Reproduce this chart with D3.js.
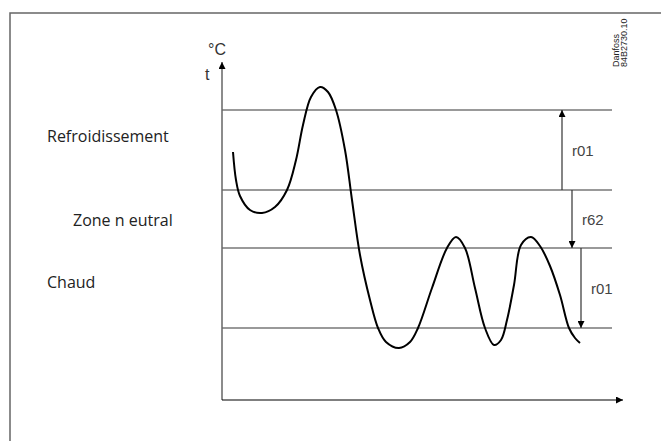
<!DOCTYPE html>
<html>
<head>
<meta charset="utf-8">
<script src="https://cdn.jsdelivr.net/npm/d3@7"></script>
<style>
  body { margin: 0; background: #fff; }
  svg { display: block; }
</style>
</head>
<body>
<div id="chart"></div>
<script>
// temperature curve (time, temperature)
const curveT = [11, 14, 18, 28, 40, 53, 65, 74, 81, 89, 98, 106, 114, 123, 130, 138, 148, 156, 164, 177, 188, 196, 210, 225, 234, 243, 253, 263, 272, 279, 285, 292, 299, 309, 318, 328, 338, 347, 353, 358];
const curveV = [248, 220, 204, 190, 187, 193, 210, 240, 275, 303, 313, 308, 290, 250, 200, 145, 100, 72, 58, 52, 58, 72, 112, 152, 163, 152, 112, 72, 55, 60, 80, 115, 155, 163, 154, 134, 105, 72, 62, 57];

// limit lines, top to bottom
const levels = [290, 210, 152, 72];

// zone labels on the left
const zoneNames = ["Refroidissement", "Zone n eutral", "Chaud"];
const zoneMid = [263, 179, 117];
const zoneIndent = [0, 26, 0];

// differentials shown as arrows on the right
const diffNames = ["r01", "r62", "r01"];
const diffT = [340, 350, 359];
const diffFrom = [210, 210, 152];
const diffTo = [290, 152, 72];

const width = 661, height = 441;
const margin = { top: 60, left: 222, right: 39, bottom: 41 };

const svg = d3.select("#chart").append("svg")
  .attr("width", width)
  .attr("height", height);

// outer frame (only top and left edges are visible in the crop)
svg.append("path")
  .attr("d", "M10," + height + "V13H" + width)
  .attr("fill", "none")
  .attr("stroke", "#666")
  .attr("stroke-width", 1.5);

const x = d3.scaleLinear().domain([0, 400]).range([margin.left, width - margin.right]);
const y = d3.scaleLinear().domain([0, 340]).range([height - margin.bottom, margin.top]);

const defs = svg.append("defs");
defs.append("marker")
  .attr("id", "tip")
  .attr("viewBox", "0 0 10 10")
  .attr("refX", 10).attr("refY", 5)
  .attr("markerWidth", 10).attr("markerHeight", 7)
  .attr("markerUnits", "userSpaceOnUse")
  .attr("orient", "auto")
  .append("path")
    .attr("d", "M0,0L10,5L0,10Z")
    .attr("fill", "#000");
defs.append("marker")
  .attr("id", "bigtip")
  .attr("viewBox", "0 0 10 10")
  .attr("refX", 10).attr("refY", 5)
  .attr("markerWidth", 12).attr("markerHeight", 7)
  .attr("markerUnits", "userSpaceOnUse")
  .attr("orient", "auto")
  .append("path")
    .attr("d", "M0,0L10,5L0,10Z")
    .attr("fill", "#000");

// limit lines
svg.selectAll(".level")
  .data(levels)
  .enter()
  .append("line")
    .attr("class", "level")
    .attr("x1", x(0))
    .attr("x2", x(390))
    .attr("y1", d => y(d))
    .attr("y2", d => y(d))
    .attr("stroke", "#777")
    .attr("stroke-width", 1.5);

// axes
svg.append("line")
  .attr("x1", x(0)).attr("x2", x(0))
  .attr("y1", y(0)).attr("y2", y(338))
  .attr("stroke", "#666")
  .attr("stroke-width", 1.5)
  .attr("marker-end", "url(#bigtip)");

svg.append("line")
  .attr("x1", x(0)).attr("x2", x(401))
  .attr("y1", y(0)).attr("y2", y(0))
  .attr("stroke", "#000")
  .attr("stroke-width", 1.2)
  .attr("marker-end", "url(#bigtip)");

svg.append("text")
  .attr("x", x(-14)).attr("y", y(345))
  .attr("font-family", "Liberation Sans, Arial, sans-serif")
  .attr("font-size", 16)
  .attr("fill", "#333")
  .text("°C");

svg.append("text")
  .attr("x", x(-17)).attr("y", y(320))
  .attr("font-family", "Liberation Sans, Arial, sans-serif")
  .attr("font-size", 16)
  .attr("fill", "#333")
  .text("t");

// temperature curve
const pts = curveT.map((t, i) => [t, curveV[i]]);
const line = d3.line()
  .x(d => x(d[0]))
  .y(d => y(d[1]))
  .curve(d3.curveCatmullRom.alpha(0.5));

svg.append("path")
  .datum(pts)
  .attr("d", line)
  .attr("fill", "none")
  .attr("stroke", "#000")
  .attr("stroke-width", 2);

// differential arrows
svg.selectAll(".diff")
  .data(diffNames)
  .enter()
  .append("line")
    .attr("class", "diff")
    .attr("x1", (d, i) => x(diffT[i]))
    .attr("x2", (d, i) => x(diffT[i]))
    .attr("y1", (d, i) => y(diffFrom[i]))
    .attr("y2", (d, i) => y(diffTo[i]))
    .attr("stroke", "#333")
    .attr("stroke-width", 1.2)
    .attr("marker-end", "url(#tip)");

svg.selectAll(".difflabel")
  .data(diffNames)
  .enter()
  .append("text")
    .attr("class", "difflabel")
    .attr("x", (d, i) => x(diffT[i]) + 10)
    .attr("y", (d, i) => y((diffFrom[i] + diffTo[i]) / 2) + 6)
    .attr("font-family", "Liberation Sans, Arial, sans-serif")
    .attr("font-size", 15)
    .attr("fill", "#444")
    .text(d => d);

// zone labels
svg.selectAll(".zone")
  .data(zoneNames)
  .enter()
  .append("text")
    .attr("class", "zone")
    .attr("x", (d, i) => 47 + zoneIndent[i])
    .attr("y", (d, i) => y(zoneMid[i]) + 5)
    .attr("font-family", "Open Sans, sans-serif")
    .attr("font-size", 16)
    .attr("fill", "#222")
    .text(d => d);

// drawing reference
const ref = svg.append("text")
  .attr("transform", "translate(619,67) rotate(-90)")
  .attr("font-family", "Liberation Sans, Arial, sans-serif")
  .attr("font-size", 9)
  .attr("fill", "#222");
ref.append("tspan").attr("x", 0).attr("dy", 0).text("Danfoss");
ref.append("tspan").attr("x", 0).attr("dy", 7.5).text("84B2730.10");
</script>
</body>
</html>
